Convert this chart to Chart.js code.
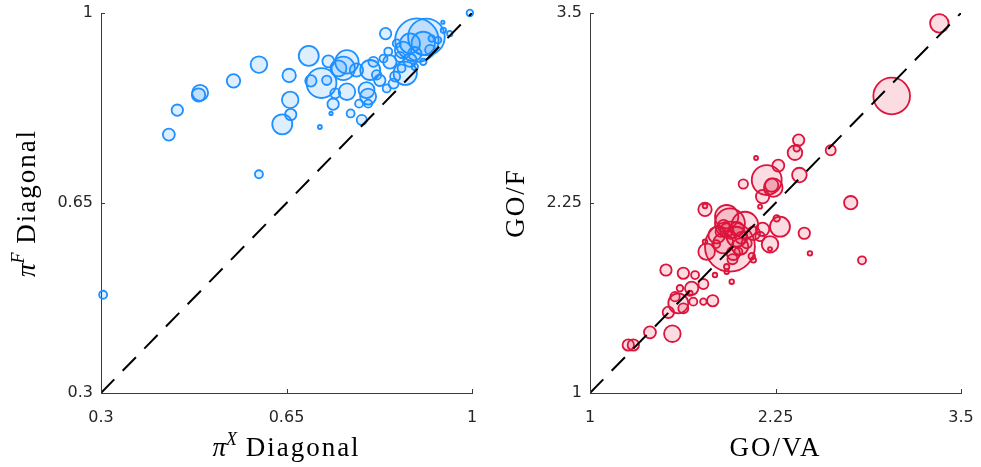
<!DOCTYPE html>
<html>
<head>
<meta charset="utf-8">
<script src="https://cdn.jsdelivr.net/npm/chart.js@4.4.0/dist/chart.umd.min.js"></script>
<style>
    html, body { margin: 0; padding: 0; background: #fff; }
    #wrap { position: relative; width: 981px; height: 467px; }
    .panel { position: absolute; top: 0; }
</style>
</head>
<body>
<div id="wrap">
    <div class="panel" style="left:0"><canvas id="left" width="490" height="467"></canvas></div>
    <div class="panel" style="left:490px"><canvas id="right" width="491" height="467"></canvas></div>
</div>
<script>
// left panel: pi^X diagonal vs pi^F diagonal
const leftX = [0.304, 0.428, 0.444, 0.487, 0.484, 0.550, 0.598, 0.655, 0.657, 0.658, 0.642, 0.598, 0.692, 0.713, 0.734, 0.729,
    0.716, 0.696, 0.726, 0.764, 0.757, 0.748, 0.764, 0.742, 0.738, 0.771, 0.792, 0.787, 0.804, 0.804, 0.801, 0.808,
    0.782, 0.814, 0.833, 0.826, 0.820, 0.839, 0.852, 0.855, 0.842, 0.837, 0.845, 0.874, 0.864, 0.883, 0.896, 0.914,
    0.908, 0.883, 0.870, 0.892, 0.921, 0.924, 0.945, 0.958, 0.946, 0.867, 0.908, 0.892, 0.936, 0.858, 0.996];
const leftY = [0.481, 0.776, 0.821, 0.853, 0.849, 0.875, 0.905, 0.885, 0.840, 0.813, 0.795, 0.703, 0.921, 0.790, 0.815, 0.911,
    0.871, 0.875, 0.876, 0.910, 0.898, 0.898, 0.855, 0.852, 0.832, 0.815, 0.803, 0.833, 0.833, 0.846, 0.858, 0.895,
    0.895, 0.910, 0.916, 0.876, 0.886, 0.861, 0.870, 0.883, 0.929, 0.962, 0.910, 0.889, 0.919, 0.913, 0.950, 0.956,
    0.944, 0.944, 0.932, 0.925, 0.932, 0.953, 0.983, 0.962, 0.968, 0.898, 0.910, 0.901, 0.950, 0.944, 1.000];
const leftWeight = [4, 9, 8.1, 16, 11.2, 11.2, 17.2, 11.2, 17.2, 8.1, 25, 4, 25, 1, 0.7, 9,
    56, 8.1, 5.5, 34, 34, 16, 17.2, 6.3, 8.1, 4, 6.3, 4, 4, 16, 16, 25,
    11.2, 6.3, 4, 8.1, 5.5, 4, 6.3, 6.3, 4, 8.1, 11.2, 34, 6.3, 11.2, 118, 84,
    34, 25, 17.2, 11.2, 6.3, 2.7, 0.7, 1.8, 1.8, 4, 2.7, 2.7, 2.7, 4, 2.7];

// right panel: GO/VA vs GO/F
const rightX = [3.354, 3.033, 2.406, 2.381, 2.393, 2.622, 2.119, 2.269, 2.191, 2.235, 2.224, 2.411, 2.033, 2.163, 2.757, 2.444,
    2.482, 2.833, 2.280, 2.258, 2.213, 2.213, 2.163, 2.146, 1.775, 1.775, 1.943, 1.943, 2.044, 1.854, 1.786, 1.988,
    1.898, 2.011, 1.921, 1.966, 2.056, 2.101, 1.921, 1.921, 1.955, 1.842, 1.775, 1.512, 1.629, 1.708, 1.764, 1.685,
    1.606, 1.573, 1.595, 1.629, 1.528, 1.696, 1.764, 1.827, 1.674, 1.404, 1.555, 1.258, 1.292, 1.921, 2.101, 2.146,
    2.090, 1.960, 1.880, 1.990, 2.020, 1.900, 1.850, 1.950, 2.000];
const rightY = [3.432, 2.954, 2.664, 2.581, 2.610, 2.597, 2.546, 2.496, 2.401, 2.351, 2.368, 2.434, 2.375, 2.292, 2.252, 2.051,
    1.919, 1.873, 2.094, 2.149, 1.978, 1.947, 2.077, 2.226, 2.208, 2.230, 1.963, 2.116, 2.105, 2.039, 1.930, 2.028,
    1.985, 1.963, 2.072, 1.919, 1.985, 1.875, 1.831, 1.798, 1.732, 1.776, 1.995, 1.809, 1.788, 1.776, 1.717, 1.689,
    1.689, 1.634, 1.590, 1.557, 1.531, 1.601, 1.601, 1.607, 1.656, 1.399, 1.390, 1.316, 1.316, 2.160, 2.050, 2.030,
    1.900, 1.880, 2.060, 2.080, 2.020, 2.100, 1.980, 2.040, 1.930];
const rightWeight = [21.6, 84, 8.1, 13.3, 2.7, 6.3, 1, 9, 56, 21.6, 11.2, 13.3, 5.5, 11.2, 11.2, 8.1,
    1.3, 4, 25, 2.7, 17.2, 1, 11.2, 1, 11.2, 1.3, 156, 56, 44, 17.2, 17.2, 25,
    25, 17.2, 11.2, 11.2, 6.3, 1.8, 1.8, 1.3, 1.3, 1.3, 1.3, 8.1, 8.1, 4, 6.3, 11.2,
    2.7, 5.5, 25, 6.3, 8.1, 4, 2.7, 8.1, 1.8, 9, 17.2, 8.1, 8.1, 34, 11.2, 5.5,
    2.7, 6.3, 6.3, 12.3, 9, 9, 4, 4, 4];

const leftTicks = [0.3, 0.65, 1];
const leftTickLabels = ['0.3', '0.65', '1'];
const rightTicks = [1, 2.25, 3.5];
const rightTickLabels = ['1', '2.25', '3.5'];

const serif = '"Liberation Serif", "Times New Roman", serif';

function drawRich(ctx, parts, cx, cy, rot) {
    ctx.save();
    ctx.translate(cx, cy);
    ctx.rotate(rot);
    ctx.textBaseline = 'alphabetic';
    ctx.textAlign = 'left';
    let total = 0;
    parts.forEach(p => {
        ctx.font = p.font;
        ctx.letterSpacing = p.spacing || '0px';
        p.w = ctx.measureText(p.text).width;
        total += p.w;
    });
    let x = -total / 2;
    parts.forEach(p => {
        ctx.font = p.font;
        ctx.letterSpacing = p.spacing || '0px';
        ctx.fillText(p.text, x, p.dy || 0);
        x += p.w;
    });
    ctx.restore();
}

// matlab style: inward ticks + latex-like axis titles
const matlabAxes = {
    id: 'matlabAxes',
    afterDraw(chart, args, opts) {
        const { ctx, chartArea: a } = chart;
        const xs = chart.scales.x, ys = chart.scales.y;
        ctx.save();
        ctx.strokeStyle = '#3a3a3a';
        ctx.lineWidth = 1;
        ctx.beginPath();
        opts.ticks.forEach(v => {
            const px = Math.round(xs.getPixelForValue(v)) + 0.5;
            ctx.moveTo(px, a.bottom);
            ctx.lineTo(px, a.bottom - 4);
            const py = Math.round(ys.getPixelForValue(v)) + 0.5;
            ctx.moveTo(a.left, py);
            ctx.lineTo(a.left + 4, py);
        });
        ctx.stroke();
        ctx.fillStyle = '#000';
        drawRich(ctx, opts.xTitle, (a.left + a.right) / 2, a.bottom + 63, 0);
        drawRich(ctx, opts.yTitle, a.left - 66, (a.top + a.bottom) / 2, -Math.PI / 2);
        ctx.restore();
    }
};

// no extra room for overhanging tick labels, the layout is fixed
function noPad(s) {
    s.paddingLeft = 0;
    s.paddingRight = 0;
    s.paddingTop = 0;
    s.paddingBottom = 0;
}

function makeChart(id, xs, ys, ws, ticks, tickLabels, color, fill, axisW, padRight, xTitle, yTitle) {
    const points = xs.map((x, i) => ({ x: x, y: ys[i], r: 2 * Math.sqrt(ws[i]) }));
    const lo = ticks[0], hi = ticks[ticks.length - 1];
    const setTicks = scale => { scale.ticks = ticks.map(v => ({ value: v })); };
    const tickFont = { family: '"DejaVu Sans", sans-serif', size: 16 };

    return new Chart(document.getElementById(id), {
        type: 'bubble',
        data: {
            datasets: [
                {
                    type: 'line',
                    data: [{ x: lo, y: lo }, { x: hi, y: hi }],
                    borderColor: '#000',
                    borderWidth: 2,
                    borderDash: [19, 12],
                    pointRadius: 0,
                    fill: false,
                    order: 0
                },
                {
                    data: points,
                    borderColor: color,
                    backgroundColor: fill,
                    borderWidth: 1.8,
                    clip: false,
                    order: 1
                }
            ]
        },
        options: {
            responsive: false,
            animation: false,
            events: [],
            layout: { autoPadding: false, padding: { left: 0, right: padRight, top: 13, bottom: 0 } },
            plugins: {
                legend: { display: false },
                tooltip: { enabled: false },
                matlabAxes: { ticks: ticks, xTitle: xTitle, yTitle: yTitle }
            },
            scales: {
                x: {
                    type: 'linear',
                    min: lo,
                    max: hi,
                    afterBuildTicks: setTicks,
                    afterFit: s => { s.height = 74; noPad(s); },
                    grid: { display: false, drawTicks: false },
                    border: { display: true, color: '#3a3a3a', width: 1 },
                    ticks: {
                        font: tickFont,
                        color: '#262626',
                        padding: 15,
                        maxRotation: 0,
                        callback: (v, i) => tickLabels[i]
                    }
                },
                y: {
                    type: 'linear',
                    min: lo,
                    max: hi,
                    afterBuildTicks: setTicks,
                    afterFit: s => { s.width = axisW; noPad(s); },
                    grid: { display: false, drawTicks: false },
                    border: { display: true, color: '#3a3a3a', width: 1 },
                    ticks: {
                        font: tickFont,
                        color: '#262626',
                        padding: 8,
                        callback: (v, i) => tickLabels[i]
                    }
                }
            }
        },
        plugins: [matlabAxes]
    });
}

makeChart('left', leftX, leftY, leftWeight, leftTicks, leftTickLabels,
    '#1E90FF', 'rgba(30, 144, 255, 0.15)', 101, 18,
    [
        { text: 'π', font: 'italic 27px ' + serif },
        { text: 'X', font: 'italic 18px ' + serif, dy: -11 },
        { text: ' Diagonal', font: '27px ' + serif, spacing: '2px' }
    ],
    [
        { text: 'π', font: 'italic 27px ' + serif },
        { text: 'F', font: 'italic 18px ' + serif, dy: -11 },
        { text: ' Diagonal', font: '27px ' + serif, spacing: '2px' }
    ]);

makeChart('right', rightX, rightY, rightWeight, rightTicks, rightTickLabels,
    '#DC143C', 'rgba(220, 20, 60, 0.15)', 100, 20,
    [{ text: 'GO/VA', font: '27px ' + serif, spacing: '2px' }],
    [{ text: 'GO/F', font: '27px ' + serif, spacing: '2px' }]);
</script>
</body>
</html>
